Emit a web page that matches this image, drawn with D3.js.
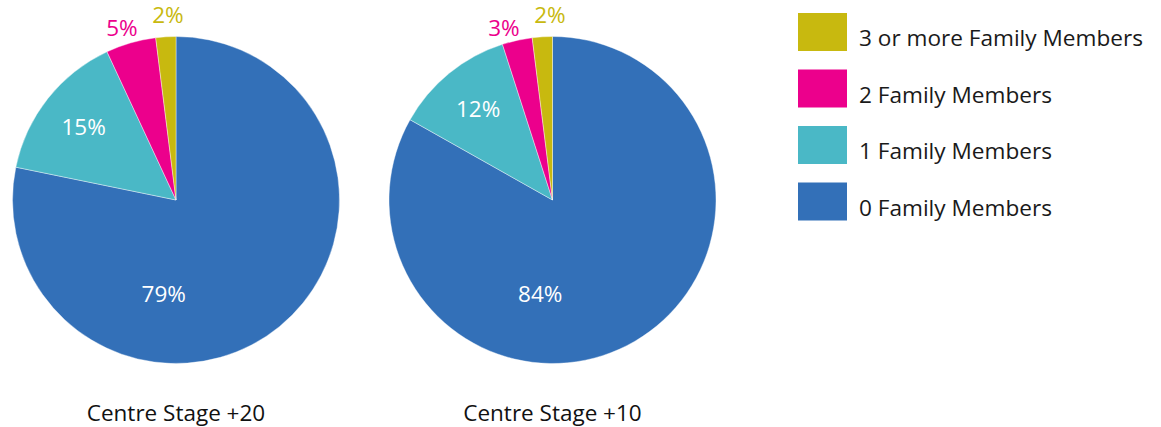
<!DOCTYPE html>
<html>
<head>
<meta charset="utf-8">
<script src="https://cdn.jsdelivr.net/npm/d3@7"></script>
<style>
  html, body { margin: 0; padding: 0; background: #fff; }
  svg { display: block; font-family: "Open Sans", "Noto Sans", sans-serif; }
</style>
</head>
<body>
<svg id="chart" width="1161" height="427"></svg>
<script>
// Share of respondents by number of family members, per programme
const categories = ["0 Family Members", "1 Family Members", "2 Family Members", "3 or more Family Members"];
const programmes = ["Centre Stage +20", "Centre Stage +10"];
const stage20Values = [79, 15, 5, 2];
const stage10Values = [84, 12, 3, 2];
const colors = ["#3370B8", "#4AB8C6", "#EC008C", "#C8B90F"];

const series = [stage20Values, stage10Values];

const svg = d3.select("#chart");

const radius = 163.5;
const cy = 200;
const pieX = d3.scalePoint().domain(programmes).range([176, 552.5]);
const color = d3.scaleOrdinal().domain(categories).range(colors);

const pie = d3.pie().sort(null).value(d => d.value);
const arc = d3.arc().innerRadius(0).outerRadius(radius);
const innerLabelArc = d3.arc().innerRadius(radius * 0.72).outerRadius(radius * 0.72);
const outerLabelArc = d3.arc().innerRadius(radius + 20).outerRadius(radius + 20);
const minLabelGapX = 46;
const minLabelGapY = 13;
const topLimit = 15 - cy; // keep outside labels inside the canvas

programmes.forEach((name, pi) => {
  const rows = categories.map((c, i) => ({ category: c, value: series[pi][i] }));
  const arcs = pie(rows);
  const g = svg.append("g").attr("transform", `translate(${pieX(name)},${cy})`);

  g.selectAll("path.slice")
    .data(arcs)
    .join("path")
    .attr("class", "slice")
    .attr("d", arc)
    .attr("fill", d => color(d.data.category))
    .attr("stroke", "#ffffff")
    .attr("stroke-width", 0.4);

  const maxVal = d3.max(rows, d => d.value);

  // label anchor points
  arcs.forEach(d => {
    if (d.data.value === maxVal) {
      const a = Math.PI + 0.13, rr = radius * 0.58;
      d.lx = rr * Math.sin(a); d.ly = -rr * Math.cos(a); d.outside = false;
    } else if (d.data.value >= 10) {
      [d.lx, d.ly] = innerLabelArc.centroid(d); d.outside = false;
    } else {
      [d.lx, d.ly] = outerLabelArc.centroid(d); d.outside = true;
    }
  });

  // spread neighbouring outside labels so they don't collide:
  // apart sideways, and staggered so the one nearer the top rises
  const outer = arcs.filter(d => d.outside).sort((a, b) => a.lx - b.lx);
  for (let i = 1; i < outer.length; i++) {
    const left = outer[i - 1], right = outer[i];
    const gapX = right.lx - left.lx;
    if (gapX < minLabelGapX) {
      const push = (minLabelGapX - gapX) / 2;
      left.lx -= push;
      right.lx += push;
      const upper = right.ly <= left.ly ? right : left;
      const lower = upper === right ? left : right;
      const gapY = lower.ly - upper.ly;
      if (gapY < minLabelGapY) {
        const shift = (minLabelGapY - gapY) / 2;
        upper.ly -= shift;
        lower.ly += shift;
      }
      if (upper.ly < topLimit) {
        const down = topLimit - upper.ly;
        upper.ly += down;
        lower.ly += down;
      }
    }
  }

  g.selectAll("text.pct")
    .data(arcs)
    .join("text")
    .attr("class", "pct")
    .attr("x", d => d.lx)
    .attr("y", d => d.ly)
    .attr("text-anchor", "middle")
    .attr("dy", "0.36em")
    .attr("font-size", 22.5)
    .attr("fill", d => d.outside ? color(d.data.category) : "#ffffff")
    .text(d => d.data.value + "%");

  svg.append("text")
    .attr("x", pieX(name))
    .attr("y", 421)
    .attr("text-anchor", "middle")
    .attr("font-size", 22.5)
    .attr("fill", "#111111")
    .text(name);
});

// Legend, highest group first
const legendOrder = categories.slice().reverse();
const legendY = d3.scaleBand().domain(legendOrder).range([13, 239]).paddingInner(0);
const legend = svg.append("g");
const items = legend.selectAll("g.item")
  .data(legendOrder)
  .join("g")
  .attr("class", "item")
  .attr("transform", d => `translate(798,${legendY(d)})`);

items.append("rect")
  .attr("width", 49)
  .attr("height", 38)
  .attr("fill", d => color(d));

items.append("text")
  .attr("x", 61)
  .attr("y", 33)
  .attr("font-size", 22.6)
  .attr("fill", "#1a1a1a")
  .text(d => d);
</script>
</body>
</html>
